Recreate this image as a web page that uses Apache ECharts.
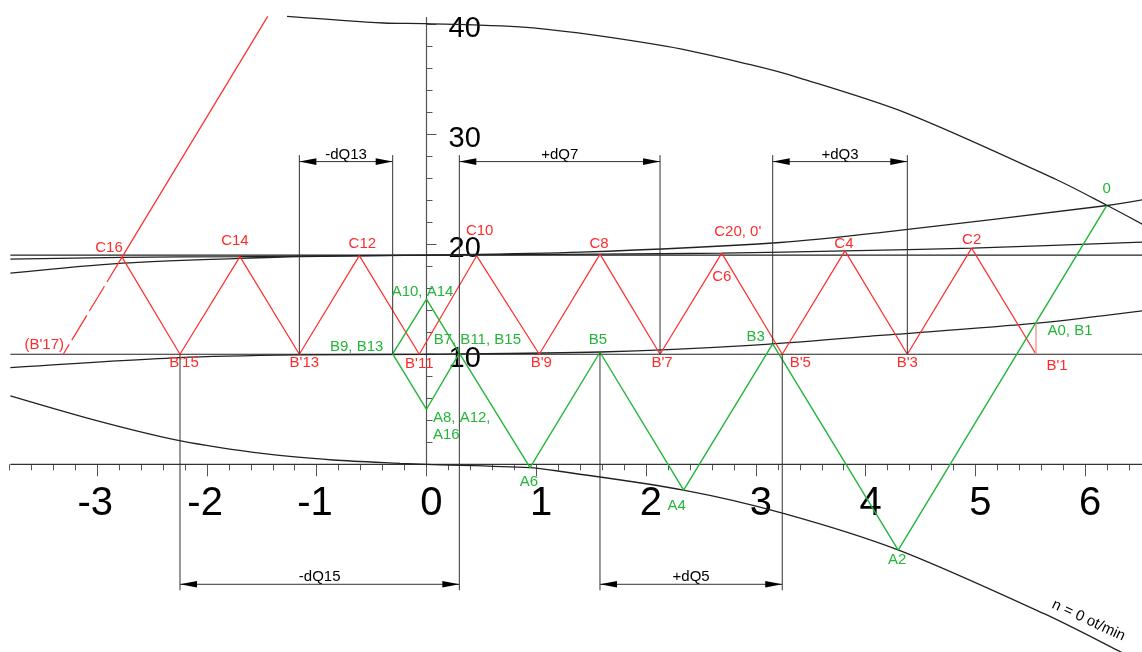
<!DOCTYPE html>
<html>
<head>
<meta charset="utf-8">
<script src="https://cdn.jsdelivr.net/npm/echarts@6/dist/echarts.min.js"></script>
<style>
  html, body { margin: 0; padding: 0; background: #fff; }
  #chart { width: 1142px; height: 652px; }
</style>
</head>
<body>
<div id="chart"></div>
<script>
// ---- tick labels ----
const qTicks = [-3, -2, -1, 0, 1, 2, 3, 4, 5, 6];
const hTicks = [10, 20, 30, 40];

// ---- pump characteristic at nominal speed ----
const headCurveQ = [-1.27, -0.39, 0, 0.97, 2.19, 2.95, 3.40, 4.37, 5.74, 6.20, 6.52];
const headCurveH = [40.69, 40.09, 40.03, 39.64, 37.96, 36.30, 35.09, 31.91, 25.85, 23.51, 21.82];

// ---- pump characteristic at n = 0 ot/min ----
const zeroCurveQ = [-3.79, -2.97, -2.25, -1.46, -0.85, -0.24, 0, 0.94, 1.21, 2.34, 3.25, 4.30, 5.62, 6.29, 6.42];
const zeroCurveH = [6.21, 3.87, 2.15, 0.94, 0.39, 0.09, 0, -0.30, -0.63, -2.34, -4.45, -7.79, -13.55, -16.88, -17.60];

// ---- system curves ----
const lowSysQ = [-3.79, -2.25, -1.15, 0, 1.58, 2.95, 4.13, 5.56, 6.52];
const lowSysH = [8.78, 9.69, 9.94, 10.0, 10.20, 10.80, 11.71, 12.82, 13.94];
const midSysQ = [-3.79, -2.77, -1.70, -0.61, 0, 1.58, 2.69, 3.81, 4.97, 6.52];
const midSysH = [18.64, 18.80, 18.87, 18.96, 19.0, 19.09, 19.18, 19.39, 19.64, 20.18];
const upSysQ = [-3.79, -2.77, -1.70, -1.15, 0, 1.40, 3.22, 4.13, 6.20, 6.52];
const upSysH = [17.36, 18.27, 18.71, 18.88, 19.0, 19.27, 20.15, 21.05, 23.51, 24.03];
const levelQ = [-3.79, 6.52];
const levelLow = 10;
const levelHigh = 19;

// ---- red path: B' points on H = 10, C points on the middle system curve ----
const redNames = ["B'1", "C2", "B'3", "C4", "B'5", "C6", "B'7", "C8", "B'9", "C10", "B'11", "C12", "B'13", "C14", "B'15", "C16"];
const redQ = [5.551, 4.965, 4.379, 3.811, 3.240, 2.689, 2.127, 1.580, 1.027, 0.457, -0.066, -0.612, -1.158, -1.699, -2.245, -2.773];
const redH = [10, 19.64, 10, 19.39, 10, 19.18, 10, 19.09, 10, 18.94, 10, 18.96, 10, 18.87, 10, 18.82];
const redTopQ = -1.446, redTopH = 40.69;
const b17Q = -3.308, b17H = 10;

// ---- green path ----
const greenNames = ["0", "A2", "B3", "A4", "B5", "A6", "B7", "A8", "B9", "A10", "B11", "A12", "B13", "A14", "B15", "A16"];
const greenQ = [6.195, 4.296, 3.153, 2.342, 1.580, 0.943, 0.299, 0, -0.308, 0, 0.299, 0, -0.308, 0, 0.299, 0];
const greenH = [23.51, -7.79, 10.94, -2.34, 10.18, -0.30, 10.10, 5.0, 10.03, 15.0, 10.10, 5.0, 10.03, 15.0, 10.10, 5.0];
const a0Q = 5.551, a0H = 12.82;

// ---- flow differences (dimension lines) ----
const dimNames = ["-dQ13", "+dQ7", "+dQ3", "-dQ15", "+dQ5"];
const dimFrom = ["B'13", "B7", "B3", "B'15", "B5"];
const dimTo = ["B9", "B'7", "B'3", "B15", "B'5"];
const dimLevel = [27.5, 27.5, 27.5, -10.9, -10.9];

// ---- point lookup ----
const pts = {};
redNames.forEach((n, i) => { pts[n] = [redQ[i], redH[i]]; });
greenNames.forEach((n, i) => { pts[n] = [greenQ[i], greenH[i]]; });
pts["B'17"] = [b17Q, b17H];
pts["A0"] = [a0Q, a0H];
pts["n0"] = [zeroCurveQ[12], zeroCurveH[12]];

// ---- label texts and the point each one belongs to ----
const labelTexts = ["B'1", "C2", "B'3", "C4", "B'5", "C6", "C20, 0'", "B'7", "C8", "B'9", "C10", "B'11", "C12",
  "B'13", "C14", "B'15", "C16", "(B'17)",
  "0", "A0, B1", "A2", "B3", "A4", "B5", "A6", "B7, B11, B15", "A8, A12,", "A16", "B9, B13", "A10, A14",
  "n = 0 ot/min"];
const labelAnchors = ["B'1", "C2", "B'3", "C4", "B'5", "C6", "C6", "B'7", "C8", "B'9", "C10", "B'11", "C12",
  "B'13", "C14", "B'15", "C16", "B'17",
  "0", "A0", "A2", "B3", "A4", "B5", "A6", "B7", "A8", "A8", "B9", "A10",
  "n0"];

// label placement (pixel offsets from the anchor point) and colours
const RED = '#ff2b2b', GREEN = '#22b63a', BLACK = '#000';
const labelLayout = {
  "B'1": [21, 12, RED], "C2": [0, -8, RED], "B'3": [0, 8.5, RED], "C4": [-1, -7, RED], "B'5": [18, 8.5, RED],
  "C6": [0, 24, RED], "C20, 0'": [16, -21, RED], "B'7": [2, 8.5, RED], "C8": [-1, -10, RED], "B'9": [2, 8.5, RED],
  "C10": [3, -25, RED], "B'11": [0, 10, RED], "C12": [3, -12, RED], "B'13": [5, 8.5, RED], "C14": [-5, -16, RED],
  "B'15": [4, 8.5, RED], "C16": [-13, -9, RED], "(B'17)": [-19, -9, RED],
  "0": [0, -17, GREEN], "A0, B1": [34, 8, GREEN], "A2": [-1, 10, GREEN], "B3": [-17, -7, GREEN],
  "A4": [-7, 16, GREEN], "B5": [-2, -12, GREEN], "A6": [-1, 14, GREEN], "B7, B11, B15": [18, -13, GREEN],
  "A8, A12,": [6.5, 9, GREEN, 'left'], "A16": [6.5, 26, GREEN, 'left'], "B9, B13": [-36, -7, GREEN],
  "A10, A14": [-4, -7, GREEN],
  "n = 0 ot/min": [45, 7, BLACK, 'center', -25]
};

const FONT = "'Liberation Sans', Arial, Helvetica, sans-serif";
const zip = (a, b) => a.map((v, i) => [v, b[i]]);

const chart = echarts.init(document.getElementById('chart'), null, { renderer: 'canvas' });

function curve(name, q, h, color, width, extra) {
  return Object.assign({
    name, type: 'line', data: zip(q, h), showSymbol: false, symbol: 'none',
    clip: false, silent: true, z: 2,
    lineStyle: { color, width }
  }, extra || {});
}

const smoothOpts = { smooth: 0.3 };

const option = {
  animation: false,
  backgroundColor: '#fff',
  grid: { left: -12.7, right: -53.1, top: 24, bottom: 187.7, outerBoundsMode: 'none', containLabel: false },
  xAxis: {
    type: 'value', min: -4, max: 7, interval: 1,
    axisLine: { show: false, onZero: true },
    axisTick: { show: true, length: 12, lineStyle: { color: '#555', width: 1 } },
    minorTick: { show: true, splitNumber: 5, length: 6, lineStyle: { color: '#555', width: 1 } },
    splitLine: { show: false },
    axisLabel: {
      formatter: v => (qTicks.indexOf(v) >= 0 ? String(v) : ''),
      fontSize: 40, color: '#000', fontFamily: FONT, margin: 20,
      align: 'right', padding: [0, -16, 0, 0]
    }
  },
  yAxis: {
    type: 'value', min: 0, max: 40, interval: 10,
    axisLine: { show: false, onZero: true },
    axisTick: { show: true, inside: true, length: 10, lineStyle: { color: '#555', width: 1 } },
    minorTick: { show: true, splitNumber: 5, length: 6, lineStyle: { color: '#555', width: 1 } },
    splitLine: { show: false },
    axisLabel: { show: false }
  },
  series: [
    // axis lines
    curve('Q axis', levelQ, [0, 0], '#333', 1.2),
    curve('H axis', [0, 0], [0, 40.64], '#555', 1.2),
    // H tick labels, placed to the right of the H axis
    {
      type: 'custom', name: 'H ticks', clip: false, silent: true, z: 1,
      data: hTicks.map(h => [0, h]),
      renderItem: function (params, api) {
        const p = api.coord([api.value(0), api.value(1)]);
        return {
          type: 'text', x: p[0] + 22, y: p[1] + 5,
          style: { text: String(api.value(1)), fill: '#000', font: '29px ' + FONT, align: 'left', verticalAlign: 'middle' }
        };
      }
    },
    // reference levels
    curve('H = 10', levelQ, [levelLow, levelLow], '#222', 1.2),
    curve('H = 19', levelQ, [levelHigh, levelHigh], '#222', 1.2),
    // system curves
    curve('system low', lowSysQ, lowSysH, '#222', 1.3, smoothOpts),
    curve('system mid', midSysQ, midSysH, '#222', 1.3, smoothOpts),
    curve('system high', upSysQ, upSysH, '#222', 1.3, smoothOpts),
    // pump curves
    curve('n nominal', headCurveQ, headCurveH, '#222', 1.3, smoothOpts),
    curve('n = 0', zeroCurveQ, zeroCurveH, '#222', 1.3, smoothOpts),
    // red construction
    curve('red path', redQ, redH, RED, 1.2, { z: 3 }),
    curve('red extension', [redQ[redQ.length - 1], redTopQ], [redH[redH.length - 1], redTopH], RED, 1.2, { z: 3 }),
    curve('red dashed', [redQ[redQ.length - 1], b17Q], [redH[redH.length - 1], b17H], RED, 1.2,
      { z: 3, lineStyle: { color: RED, width: 1.2, type: [29, 5] } }),
    curve('B1 link', [redQ[0], a0Q], [redH[0], a0H], '#ff9a9a', 1.5, { z: 3 }),
    // green construction
    curve('green path', greenQ, greenH, GREEN, 1.4, { z: 4 }),
    // dimension lines
    {
      type: 'custom', name: 'dimensions', clip: false, silent: true, z: 5,
      encode: { x: [0, 2], y: [1, 3, 4] },
      data: dimNames.map((n, i) => [pts[dimFrom[i]][0], pts[dimFrom[i]][1], pts[dimTo[i]][0], pts[dimTo[i]][1], dimLevel[i]]),
      renderItem: function (params, api) {
        const i = params.dataIndex;
        const a = api.coord([api.value(0), api.value(1)]);
        const b = api.coord([api.value(2), api.value(3)]);
        const yl = api.coord([0, api.value(4)])[1];
        const up = yl < a[1];
        const ext = up ? yl - 6.5 : yl + 6;
        const ls = { stroke: '#333', lineWidth: 1 };
        const L = 17, W = 3.3;
        const x1 = Math.min(a[0], b[0]), x2 = Math.max(a[0], b[0]);
        return {
          type: 'group',
          children: [
            { type: 'line', shape: { x1: a[0], y1: a[1], x2: a[0], y2: ext }, style: ls },
            { type: 'line', shape: { x1: b[0], y1: b[1], x2: b[0], y2: ext }, style: ls },
            { type: 'line', shape: { x1: x1, y1: yl, x2: x2, y2: yl }, style: ls },
            { type: 'polygon', shape: { points: [[x1, yl], [x1 + L, yl - W], [x1 + L, yl + W]] }, style: { fill: '#000' } },
            { type: 'polygon', shape: { points: [[x2, yl], [x2 - L, yl - W], [x2 - L, yl + W]] }, style: { fill: '#000' } },
            { type: 'text', x: (x1 + x2) / 2, y: yl - 7,
              style: { text: dimNames[i], fill: '#000', font: '15px ' + FONT, align: 'center', verticalAlign: 'middle' } }
          ]
        };
      }
    },
    // point labels
    {
      type: 'custom', name: 'labels', clip: false, silent: true, z: 6,
      data: labelTexts.map((t, i) => pts[labelAnchors[i]]),
      renderItem: function (params, api) {
        const t = labelTexts[params.dataIndex];
        const lay = labelLayout[t];
        const p = api.coord([api.value(0), api.value(1)]);
        return {
          type: 'text',
          x: p[0] + lay[0], y: p[1] + lay[1],
          rotation: lay[4] ? lay[4] * Math.PI / 180 : 0,
          style: { text: t, fill: lay[2], font: '15px ' + FONT, align: lay[3] || 'center', verticalAlign: 'middle' }
        };
      }
    }
  ]
};

chart.setOption(option);
</script>
</body>
</html>
